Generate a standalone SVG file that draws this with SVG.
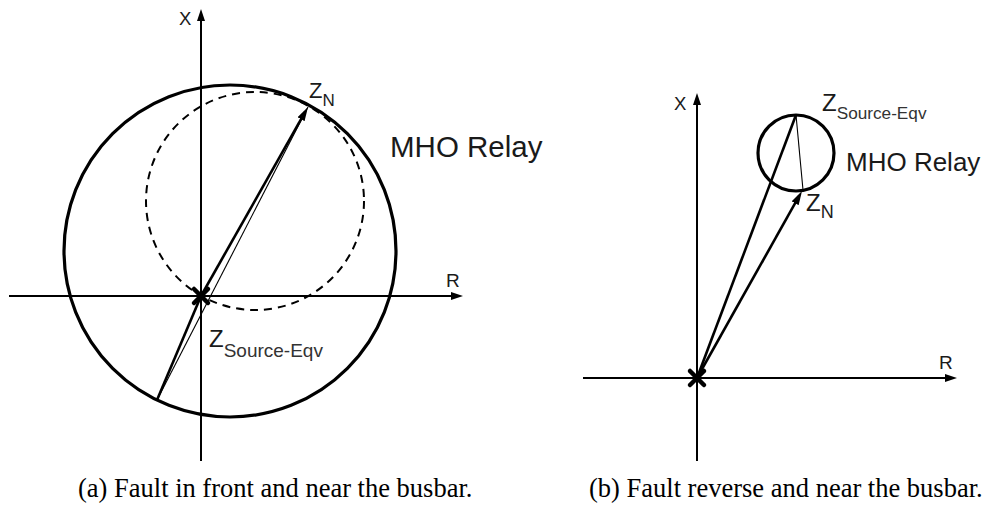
<svg xmlns="http://www.w3.org/2000/svg" width="988" height="505" viewBox="0 0 988 505">
<style>
.ax{stroke:#000;stroke-width:2;fill:none}
.thick{stroke:#000;stroke-width:2.6;fill:none}
.thin{stroke:#000;stroke-width:1.1;fill:none}
.mho{stroke:#000;stroke-width:3.2;fill:none}
.dash{stroke:#000;stroke-width:2;fill:none;stroke-dasharray:8 6}
.xm{stroke:#000;stroke-width:4.5;stroke-linecap:round}
.lbl{font-family:"Liberation Sans",Arial,sans-serif;fill:#1a1a1a}
.cap{font-family:"Liberation Serif","Times New Roman",serif;fill:#000;font-size:26.5px}
</style>
<defs>
<marker id="axarr" viewBox="0 0 12 8" refX="6" refY="4" markerWidth="12" markerHeight="8" markerUnits="userSpaceOnUse" orient="auto"><path d="M0,0 L12,4 L0,8 z" fill="#000"/></marker>
<marker id="arr" viewBox="0 0 14 8" refX="8" refY="4" markerWidth="14" markerHeight="8" markerUnits="userSpaceOnUse" orient="auto"><path d="M0,0 L14,4 L0,8 z" fill="#000"/></marker>
</defs>

<!-- Panel (a) -->
<g id="mho-circle-a"><circle class="mho" cx="230" cy="251" r="166"/></g>
<g id="dashed-circle-a"><circle class="dash" cx="255" cy="201" r="109"/></g>

<!-- Panel (b) -->
<g id="mho-circle-b"><circle class="mho" cx="796" cy="153" r="38"/></g>

<g id="connectors">
  <!-- axes a -->
  <line class="ax" x1="201" y1="461" x2="201" y2="15" marker-end="url(#axarr)"/>
  <line class="ax" x1="9" y1="296" x2="457" y2="296" marker-end="url(#axarr)"/>
  <!-- vectors a -->
  <line class="thick" x1="157" y1="400" x2="201" y2="296"/>
  <line class="thin" x1="157" y1="400" x2="308" y2="107"/>
  <line class="thick" x1="201" y1="296" x2="305.04" y2="112.22" marker-end="url(#arr)"/>
  <!-- axes b -->
  <line class="ax" x1="697" y1="461" x2="697" y2="99" marker-end="url(#axarr)"/>
  <line class="ax" x1="583" y1="378" x2="951" y2="378" marker-end="url(#axarr)"/>
  <!-- vectors b -->
  <line class="thick" x1="697" y1="378" x2="796" y2="115"/>
  <line class="thin" x1="796" y1="115" x2="803" y2="190"/>
  <line class="thick" x1="697" y1="378" x2="799.06" y2="196.23" marker-end="url(#arr)"/>
</g>

<g id="origin-a"><line class="xm" x1="194" y1="289" x2="208" y2="303"/><line class="xm" x1="194" y1="303" x2="208" y2="289"/></g>
<g id="origin-b"><line class="xm" x1="690" y1="371" x2="704" y2="385"/><line class="xm" x1="690" y1="385" x2="704" y2="371"/></g>

<g id="labels-a">
  <text class="lbl" x="179" y="25" font-size="18.5">X</text>
  <text class="lbl" x="446" y="287" font-size="19">R</text>
  <text class="lbl" x="309" y="98" font-size="22">Z<tspan font-size="17" dy="8">N</tspan></text>
  <text class="lbl" x="390" y="157" font-size="29.5">MHO Relay</text>
  <text class="lbl" x="209" y="347" font-size="24">Z<tspan font-size="19" dy="10" fill="#333">Source-Eqv</tspan></text>
</g>
<g id="labels-b">
  <text class="lbl" x="674" y="110" font-size="18.5">X</text>
  <text class="lbl" x="939" y="369" font-size="19">R</text>
  <text class="lbl" x="822" y="111" font-size="24">Z<tspan font-size="17.2" dy="8" fill="#333">Source-Eqv</tspan></text>
  <text class="lbl" x="846" y="171" font-size="26">MHO Relay</text>
  <text class="lbl" x="806" y="211" font-size="24">Z<tspan font-size="18" dy="7">N</tspan></text>
</g>

<g id="captions">
  <text class="cap" x="78" y="497">(a) Fault in front and near the busbar.</text>
  <text class="cap" x="589" y="497">(b) Fault reverse and near the busbar.</text>
</g>
</svg>
